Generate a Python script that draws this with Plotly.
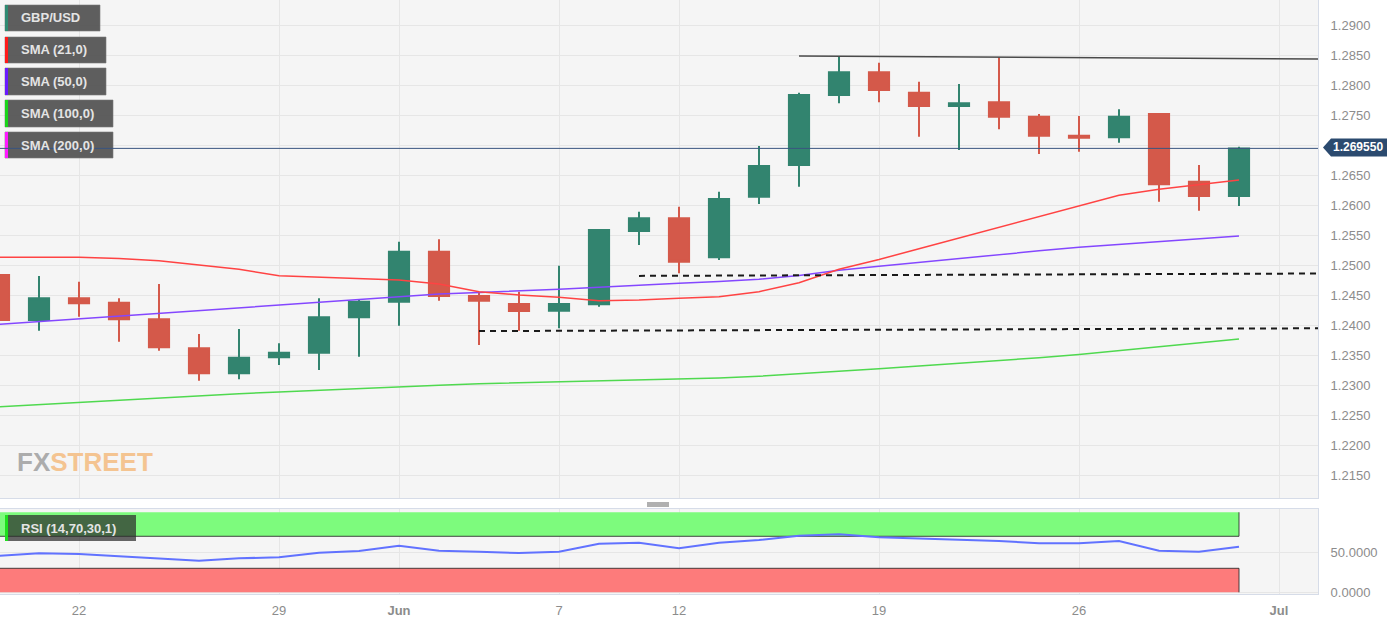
import plotly.graph_objects as go

# ---------------- data ----------------
dates = ["2023-05-18", "2023-05-19", "2023-05-22", "2023-05-23", "2023-05-24", "2023-05-25",
         "2023-05-26", "2023-05-29", "2023-05-30", "2023-05-31", "2023-06-01", "2023-06-02",
         "2023-06-05", "2023-06-06", "2023-06-07", "2023-06-08", "2023-06-09", "2023-06-12",
         "2023-06-13", "2023-06-14", "2023-06-15", "2023-06-16", "2023-06-19", "2023-06-20",
         "2023-06-21", "2023-06-22", "2023-06-23", "2023-06-26", "2023-06-27", "2023-06-28",
         "2023-06-29", "2023-06-30"]

open_ = [1.24845, 1.24095, 1.24457, 1.24383, 1.24107, 1.23623, 1.23207, 1.23473, 1.23550, 1.24140,
         1.24400, 1.25233, 1.24495, 1.24362, 1.24250, 1.24357, 1.25578, 1.25790, 1.25140, 1.26150,
         1.26678, 1.27845, 1.28223, 1.27883, 1.27662, 1.27723, 1.27483, 1.27167, 1.27140, 1.27528,
         1.26400, 1.26162]
high = [1.24928, 1.24828, 1.24733, 1.24457, 1.24695, 1.23862, 1.23945, 1.23707, 1.24457, 1.24428,
        1.25400, 1.25440, 1.24567, 1.24567, 1.25000, 1.25612, 1.25900, 1.25983, 1.26233, 1.26995,
        1.27883, 1.28495, 1.28383, 1.28067, 1.28028, 1.28473, 1.27528, 1.27495, 1.27607, 1.27528,
        1.26678, 1.26983]
low = [1.23928, 1.23917, 1.24150, 1.23733, 1.23583, 1.23083, 1.23107, 1.23345, 1.23262, 1.23483,
       1.24000, 1.24417, 1.23678, 1.23917, 1.23957, 1.24317, 1.25345, 1.24873, 1.25095, 1.26028,
       1.26317, 1.27707, 1.27723, 1.27150, 1.26928, 1.27273, 1.26862, 1.26900, 1.27050, 1.26067,
       1.25917, 1.25995]
close = [1.24095, 1.24457, 1.24373, 1.24107, 1.23640, 1.23207, 1.23467, 1.23550, 1.24140, 1.24400,
         1.25233, 1.24495, 1.24417, 1.24245, 1.24362, 1.25595, 1.25790, 1.25067, 1.26112, 1.26662,
         1.27845, 1.28223, 1.27928, 1.27662, 1.27707, 1.27483, 1.27167, 1.27133, 1.27483, 1.26357,
         1.26162, 1.26955]

sma21 = [1.25140, 1.25140, 1.25140, 1.25120, 1.25083, 1.25010, 1.24940, 1.24833, 1.24807, 1.24790,
         1.24762, 1.24695, 1.24567, 1.24512, 1.24473, 1.24417, 1.24428, 1.24457, 1.24483, 1.24567,
         1.24717, 1.24940, 1.25103, 1.25282, 1.25460, 1.25638, 1.25817, 1.25995, 1.26173, 1.26273,
         1.26345, 1.26428]
sma50 = [1.24022, 1.24068, 1.24113, 1.24160, 1.24205, 1.24252, 1.24297, 1.24343, 1.24388, 1.24435,
         1.24480, 1.24527, 1.24553, 1.24578, 1.24607, 1.24642, 1.24678, 1.24707, 1.24737, 1.24773,
         1.24837, 1.24925, 1.24990, 1.25057, 1.25123, 1.25185, 1.25247, 1.25307, 1.25357, 1.25403,
         1.25450, 1.25495]
sma100 = [1.22650, 1.22687, 1.22723, 1.22762, 1.22798, 1.22835, 1.22865, 1.22895, 1.22925, 1.22953,
          1.22980, 1.23008, 1.23032, 1.23048, 1.23062, 1.23073, 1.23087, 1.23107, 1.23128, 1.23157,
          1.23195, 1.23242, 1.23283, 1.23328, 1.23372, 1.23415, 1.23465, 1.23520, 1.23587, 1.23653,
          1.23715, 1.23778]
rsi = [45.75, 48.75, 47.9, 45.4, 42.5, 39.5, 42.5, 43.75, 49.5, 51.6,
       58.25, 52.0, 50.75, 49.1, 50.75, 60.75, 62.0, 55.0, 62.0, 65.4,
       70.75, 72.5, 68.75, 67.5, 66.25, 64.1, 61.25, 61.25, 64.1, 52.0,
       50.75, 57.0]

tick_dates = ["2023-05-22", "2023-05-29", "2023-06-01", "2023-06-07", "2023-06-12",
              "2023-06-19", "2023-06-26", "2023-07-03"]
tick_text = ["22", "29", "<b>Jun</b>", "7", "12", "19", "26", "<b>Jul</b>"]
price_ticks = [1.215, 1.220, 1.225, 1.230, 1.235, 1.240, 1.245, 1.250, 1.255, 1.260,
               1.265, 1.270, 1.275, 1.280, 1.285, 1.290]
rsi_ticks = [0, 50]

# drawn levels (start date, start price, end date, end price)
resistance = ["2023-06-15", 1.28495, "2023-07-05", 1.28441]
support_hi = ["2023-06-09", 1.24830, "2023-07-05", 1.24872]
support_lo = ["2023-06-05", 1.23910, "2023-07-05", 1.23959]

legend_labels = ["GBP/USD", "SMA (21,0)", "SMA (50,0)", "SMA (100,0)", "SMA (200,0)"]
legend_colors = ["#2f8a72", "#ff1a1a", "#6a1aff", "#1ad41a", "#ff1aff"]

# ---------------- layout helpers ----------------
W, H = 1388, 618
ML, MR, MT, MB = 0, 70, 0, 24
PW = W - ML - MR
PH = H - MT - MB


def fx(px):
    return (px - ML) / PW


def fy(py):
    return (H - MB - py) / PH


UP = "#32846f"
DN = "#d4594a"
GRID = "#e6e6e6"
BORDER = "#d6dce8"
FONT = "Liberation Sans, Arial, sans-serif"

# price tick labels; the one hidden behind the last-price tag is left blank
price_text = ["" if abs(v - close[-1]) < 0.0025 else f"{v:.4f}" for v in price_ticks]

fig = go.Figure()

fig.add_trace(go.Candlestick(
    x=dates, open=open_, high=high, low=low, close=close,
    increasing=dict(line=dict(color=UP, width=2), fillcolor=UP),
    decreasing=dict(line=dict(color=DN, width=2), fillcolor=DN),
    whiskerwidth=0, xaxis="x", yaxis="y", showlegend=False, hoverinfo="skip"))

fig.add_trace(go.Scatter(x=dates, y=sma100, mode="lines", line=dict(color="#4fd94f", width=1.5),
                         xaxis="x", yaxis="y", showlegend=False, hoverinfo="skip"))
fig.add_trace(go.Scatter(x=dates, y=sma50, mode="lines", line=dict(color="#8447ff", width=1.5),
                         xaxis="x", yaxis="y", showlegend=False, hoverinfo="skip"))
fig.add_trace(go.Scatter(x=dates, y=sma21, mode="lines", line=dict(color="#ff4343", width=1.5),
                         xaxis="x", yaxis="y", showlegend=False, hoverinfo="skip"))

fig.add_trace(go.Scatter(x=dates, y=rsi, mode="lines", line=dict(color="#6172ff", width=2),
                         xaxis="x2", yaxis="y2", showlegend=False, hoverinfo="skip"))

x_range = ["2023-05-18 00:36", "2023-07-03 23:24"]

shapes = []
# RSI bands
shapes.append(dict(type="rect", xref="x2", yref="y2", x0="2023-05-10", x1=dates[-1], y0=70, y1=100,
                   fillcolor="#7dfb7d", line=dict(width=0), layer="between"))
shapes.append(dict(type="rect", xref="x2", yref="y2", x0="2023-05-10", x1=dates[-1], y0=0, y1=30,
                   fillcolor="#fd7b7b", line=dict(width=0), layer="between"))
for y0, y1, yedge in [(70, 100, 70), (0, 30, 30)]:
    shapes.append(dict(type="line", xref="x2", yref="y2", x0="2023-05-10", x1=dates[-1], y0=yedge, y1=yedge,
                       line=dict(color="rgba(40,40,40,0.85)", width=1), layer="between"))
    shapes.append(dict(type="line", xref="x2", yref="y2", x0=dates[-1], x1=dates[-1], y0=y0, y1=y1,
                       line=dict(color="rgba(40,40,40,0.85)", width=1), layer="between"))

# levels
shapes.append(dict(type="line", xref="x", yref="y", x0=resistance[0], y0=resistance[1],
                   x1=resistance[2], y1=resistance[3], line=dict(color="#4a4a4a", width=1.5)))
for lvl in (support_hi, support_lo):
    shapes.append(dict(type="line", xref="x", yref="y", x0=lvl[0], y0=lvl[1], x1=lvl[2], y1=lvl[3],
                       line=dict(color="#1a1a1a", width=2, dash="6px,5px")))

annotations = []
# legend boxes (top-left)
boxes = [(5, 100, 5, 31), (5, 106, 37, 63), (5, 106, 68, 95), (5, 113, 100, 127), (5, 113, 132, 158)]
for (x0, x1, y0, y1), lab, col in zip(boxes, legend_labels, legend_colors):
    shapes.append(dict(type="rect", xref="paper", yref="paper", x0=fx(x0), x1=fx(x1), y0=fy(y1), y1=fy(y0),
                       fillcolor="rgba(85,85,85,0.95)", line=dict(color="rgba(120,120,120,0.6)", width=1),
                       layer="above"))
    shapes.append(dict(type="rect", xref="paper", yref="paper", x0=fx(x0), x1=fx(x0 + 3), y0=fy(y1), y1=fy(y0),
                       fillcolor=col, line=dict(width=0), layer="above"))
    annotations.append(dict(xref="paper", yref="paper", x=fx(19), y=fy((y0 + y1) / 2), xanchor="left",
                            yanchor="middle", text=f"<b>{lab}</b>", showarrow=False,
                            font=dict(family=FONT, size=13, color="#e4e4e4")))

# current price line (drawn over boxes)
shapes.append(dict(type="line", xref="paper", yref="y", x0=0, x1=1, y0=close[-1], y1=close[-1],
                   line=dict(color="#3a5580", width=1), layer="above"))

# RSI label
shapes.append(dict(type="rect", xref="paper", yref="paper", x0=fx(5), x1=fx(136), y0=fy(541), y1=fy(515),
                   fillcolor="rgba(45,45,45,0.72)", line=dict(width=0), layer="above"))
shapes.append(dict(type="rect", xref="paper", yref="paper", x0=fx(5), x1=fx(8), y0=fy(541), y1=fy(515),
                   fillcolor="#1ee01e", line=dict(width=0), layer="above"))
annotations.append(dict(xref="paper", yref="paper", x=fx(19), y=fy(528), xanchor="left", yanchor="middle",
                        text="<b>RSI (14,70,30,1)</b>", showarrow=False,
                        font=dict(family=FONT, size=13, color="#e4e4e4")))

# drag handle between panels
shapes.append(dict(type="rect", xref="paper", yref="paper", x0=fx(647), x1=fx(669), y0=fy(507), y1=fy(502),
                   fillcolor="#b0b0b0", line=dict(width=0)))

# price tag
path = "M {a},{m} L {b},{t} L {c},{t} L {c},{bt} L {b},{bt} Z".format(
    a=fx(1323), b=fx(1331), c=fx(1387), m=fy(147.5), t=fy(138.5), bt=fy(156.5))
shapes.append(dict(type="path", xref="paper", yref="paper", path=path, fillcolor="#2b4a6f",
                   line=dict(width=0)))
annotations.append(dict(xref="paper", yref="paper", x=fx(1358), y=fy(147.5), xanchor="center",
                        yanchor="middle", text=f"<b>{close[-1]:.6f}</b>", showarrow=False,
                        font=dict(family=FONT, size=12, color="#ffffff")))

# watermark logo
annotations.append(dict(xref="paper", yref="paper", x=fx(15), y=fy(462), xanchor="left", yanchor="middle",
                        text="<b><span style='color:#acacac'>FX</span><span style='color:#f4c491'>STREET</span></b>",
                        showarrow=False,
                        font=dict(family=FONT, size=26)))

axis_common = dict(showgrid=True, gridcolor=GRID, gridwidth=1, zeroline=False, showline=True,
                   linecolor=BORDER, linewidth=1, mirror=True)

fig.update_layout(
    width=W, height=H,
    margin=dict(l=ML, r=MR, t=MT, b=MB),
    paper_bgcolor="#ffffff", plot_bgcolor="#f5f5f5",
    showlegend=False, boxgap=0.28,
    xaxis=dict(type="date", range=x_range, domain=[0, 1], anchor="y",
               rangebreaks=[dict(bounds=["sat", "mon"])],
               tickvals=tick_dates, ticktext=tick_text, showticklabels=False,
               rangeslider=dict(visible=False), **axis_common),
    yaxis=dict(domain=[fy(498), 1], range=[1.21128, 1.29428], side="right", anchor="x",
               tickvals=price_ticks, ticktext=price_text, ticks="outside", ticklen=9,
               tickcolor="rgba(0,0,0,0)", tickfont=dict(family=FONT, size=13, color="#8c8c8c"),
               **axis_common),
    xaxis2=dict(type="date", range=x_range, domain=[0, 1], anchor="y2", matches="x",
                rangebreaks=[dict(bounds=["sat", "mon"])],
                tickvals=tick_dates, ticktext=tick_text, ticks="outside", ticklen=4,
                tickcolor="rgba(0,0,0,0)", tickfont=dict(family=FONT, size=13, color="#8c8c8c"),
                **axis_common),
    yaxis2=dict(domain=[0, fy(509)], range=[-2.1, 104.1], side="right", anchor="x2",
                tickvals=rsi_ticks, tickformat=".4f", ticks="outside", ticklen=9,
                tickcolor="rgba(0,0,0,0)", tickfont=dict(family=FONT, size=13, color="#8c8c8c"),
                **axis_common),
    shapes=shapes, annotations=annotations,
)

fig.write_html("out.html", config={"displayModeBar": False},
               post_script="document.body.style.margin='0';document.body.style.overflow='hidden';")
